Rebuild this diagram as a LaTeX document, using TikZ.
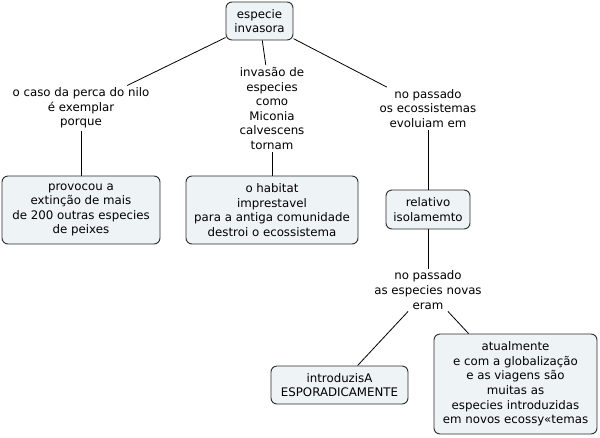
\documentclass[tikz,border=0pt]{standalone}
\usepackage{fontspec}
\setmainfont{DejaVu Sans}
\definecolor{boxfill}{HTML}{EEF3F6}
\definecolor{boxline}{HTML}{2B2B2B}
\begin{document}
\begin{tikzpicture}[x=1pt,y=-1pt,
  every node/.style={font=\fontsize{11.8}{14.6}\selectfont, align=center, inner sep=0pt},
  concept/.style={draw=boxline, line width=0.9pt, fill=boxfill, rounded corners=6pt},
  linkword/.style={fill=white},
  conn/.style={draw=black, line width=0.8pt}]
\useasboundingbox (0,0) rectangle (600,437);
% concepts
\node[concept, minimum width=67pt, minimum height=38pt] (esp) at (259.5,21) {especie\\invasora};
\node[concept, minimum width=158pt, minimum height=68pt] (prov) at (81,210) {provocou a\\extinção de mais\\de 200 outras especies\\de peixes};
\node[concept, minimum width=172pt, minimum height=68pt] (hab) at (272,210) {o habitat\\imprestavel\\para a antiga comunidade\\destroi o ecossistema};
\node[concept, minimum width=84pt, minimum height=39pt] (rel) at (428,209.5) {relativo\\isolamemto};
\node[concept, minimum width=137pt, minimum height=38pt] (intro) at (339.5,385) {introduzisA\\ESPORADICAMENTE};
\node[concept, minimum width=163pt, minimum height=100pt] (atu) at (515.5,384) {atualmente\\e com a globalização\\e as viagens são\\muitas as\\especies introduzidas\\em novos ecossy«temas};
% linking phrases
\node[linkword, inner sep=2pt] (caso) at (81,108) {o caso da perca do nilo\\é exemplar\\porque};
\node[linkword, inner sep=2pt] (inv) at (272,108.5) {invasão de\\especies\\como\\Miconia\\calvescens\\tornam};
\node[linkword, inner sep=2pt] (passado) at (428,108.5) {no passado\\os ecossistemas\\evoluiam em};
\node[linkword, inner sep=2pt] (novas) at (428,290) {no passado\\as especies novas\\eram};
% connectors
\draw[conn] (esp) -- (caso);
\draw[conn] (esp) -- (inv);
\draw[conn] (esp) -- (passado);
\draw[conn] (caso) -- (prov);
\draw[conn] (inv) -- (hab);
\draw[conn] (passado) -- (rel);
\draw[conn] (rel) -- (novas);
\draw[conn] (novas) -- (intro);
\draw[conn] (novas) -- (atu);
\end{tikzpicture}
\end{document}
